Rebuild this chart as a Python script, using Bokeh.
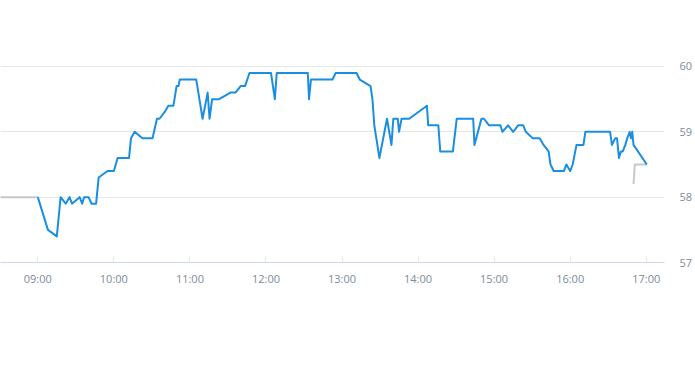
from datetime import datetime
from bokeh.plotting import figure
from bokeh.models import Range1d, FixedTicker, DatetimeTickFormatter, LinearAxis, ColumnDataSource, Grid
from bokeh.embed import file_html
from bokeh.resources import INLINE

DAY = "2024-01-02 "

# main session (time, price)
times = ["09:00", "09:08", "09:15", "09:18", "09:22", "09:25", "09:27", "09:33", "09:35", "09:36:30",
         "09:40", "09:42:30", "09:46", "09:48", "09:55", "09:57:30", "10:00", "10:03", "10:12", "10:13:30",
         "10:16:30", "10:22:30", "10:30:30", "10:34", "10:36", "10:40", "10:43", "10:47", "10:49:30", "10:51",
         "10:52", "11:05", "11:10", "11:14", "11:15:30", "11:17:30", "11:23", "11:32", "11:36", "11:40",
         "11:43:30", "11:47", "12:04", "12:07", "12:08:30", "12:33", "12:34", "12:35:30", "12:52:30", "12:55",
         "13:11:30", "13:14", "13:22:30", "13:24", "13:25:30", "13:29:30", "13:35:30", "13:39", "13:40:30", "13:44",
         "13:45", "13:47", "13:53", "14:07", "14:08", "14:16", "14:17:30", "14:27:30", "14:30:30", "14:43:30",
         "14:44:30", "14:50", "14:52", "14:56", "15:05", "15:06:30", "15:11", "15:15", "15:19", "15:23",
         "15:25", "15:30:30", "15:36", "15:39", "15:43", "15:44:30", "15:47", "15:55", "15:57", "16:00",
         "16:02", "16:05", "16:10:30", "16:12", "16:31:30", "16:33", "16:35:30", "16:37", "16:38:30", "16:40",
         "16:41:30", "16:43:30", "16:45", "16:47", "16:48", "16:49", "16:50", "17:00:30"]
prices = [58.0, 57.5, 57.4, 58.0, 57.9, 58.0, 57.9, 58.0, 57.9, 58.0,
          58.0, 57.9, 57.9, 58.3, 58.4, 58.4, 58.4, 58.6, 58.6, 58.9,
          59.0, 58.9, 58.9, 59.2, 59.2, 59.3, 59.4, 59.4, 59.7, 59.7,
          59.8, 59.8, 59.2, 59.6, 59.2, 59.5, 59.5, 59.6, 59.6, 59.7,
          59.7, 59.9, 59.9, 59.5, 59.9, 59.9, 59.5, 59.8, 59.8, 59.9,
          59.9, 59.8, 59.7, 59.5, 59.1, 58.6, 59.2, 58.8, 59.2, 59.2,
          59.0, 59.2, 59.2, 59.4, 59.1, 59.1, 58.7, 58.7, 59.2, 59.2,
          58.8, 59.2, 59.2, 59.1, 59.1, 59.0, 59.1, 59.0, 59.1, 59.1,
          59.0, 58.9, 58.9, 58.8, 58.7, 58.5, 58.4, 58.4, 58.5, 58.4,
          58.5, 58.8, 58.8, 59.0, 59.0, 58.8, 58.9, 58.9, 58.6, 58.7,
          58.7, 58.8, 58.9, 59.0, 58.9, 59.0, 58.8, 58.5]

# pre-market and after-hours (grey)
pre_times = ["08:20", "09:00"]
pre_prices = [58.0, 58.0]
post_times = ["16:50", "16:51", "17:00:30"]
post_prices = [58.2, 58.5, 58.5]

tick_hours = ["09:00", "10:00", "11:00", "12:00", "13:00", "14:00", "15:00", "16:00", "17:00"]
y_ticks = [57, 58, 59, 60]


def to_dt(t):
    fmt = "%Y-%m-%d %H:%M:%S" if t.count(":") == 2 else "%Y-%m-%d %H:%M"
    return datetime.strptime(DAY + t, fmt)


def to_ms(t):
    return (to_dt(t) - datetime(1970, 1, 1)).total_seconds() * 1000.0


x_start = to_ms("08:30:34")
x_end = to_ms("17:14:26")

p = figure(width=695, height=370, output_backend="svg", toolbar_location=None,
           x_axis_type="datetime", x_range=Range1d(x_start, x_end),
           y_range=Range1d(57, 61.01), y_axis_location=None,
           min_border_left=0, min_border_top=0, min_border_right=28, min_border_bottom=108)
p.outline_line_color = None
p.background_fill_color = "white"
p.border_fill_color = "white"

src_main = ColumnDataSource(dict(x=[to_dt(t) for t in times], y=prices))
src_pre = ColumnDataSource(dict(x=[to_dt(t) for t in pre_times], y=pre_prices))
src_post = ColumnDataSource(dict(x=[to_dt(t) for t in post_times], y=post_prices))

p.line("x", "y", source=src_pre, line_color="#c4c8cc", line_width=2)
p.line("x", "y", source=src_post, line_color="#c4c8cc", line_width=2)
p.line("x", "y", source=src_main, line_color="#1a8ee0", line_width=2, line_join="round")

# y axis on the right
yax = LinearAxis(ticker=FixedTicker(ticks=y_ticks))
yax.axis_line_color = None
yax.major_tick_line_color = None
yax.major_tick_in = 0
yax.major_tick_out = 0
yax.minor_tick_line_color = None
yax.minor_tick_in = 0
yax.minor_tick_out = 0
yax.major_label_standoff = 15
yax.major_label_text_font = "Open Sans"
yax.major_label_text_font_size = "11px"
yax.major_label_text_color = "#7d8b99"
p.add_layout(yax, "right")

xax = p.xaxis[0]
xax.ticker = FixedTicker(ticks=[to_ms(t) for t in tick_hours])
xax.formatter = DatetimeTickFormatter(hours="%H:%M", minutes="%H:%M", hourmin="%H:%M", days="%H:%M")
xax.axis_line_color = "#ccd6eb"
xax.major_tick_line_color = "#e3e8ef"
xax.major_tick_in = 6
xax.major_tick_out = 0
xax.minor_tick_line_color = None
xax.major_label_standoff = 8
xax.major_label_text_font = "Open Sans"
xax.major_label_text_font_size = "11px"
xax.major_label_text_color = "#7d8b99"

p.xgrid.grid_line_color = None
p.ygrid.grid_line_color = None

yg = Grid(dimension=1, ticker=FixedTicker(ticks=y_ticks), grid_line_color="#e6e6e6", grid_line_width=1)
p.add_layout(yg, "center")

open("out.html", "w").write(file_html(p, INLINE))
